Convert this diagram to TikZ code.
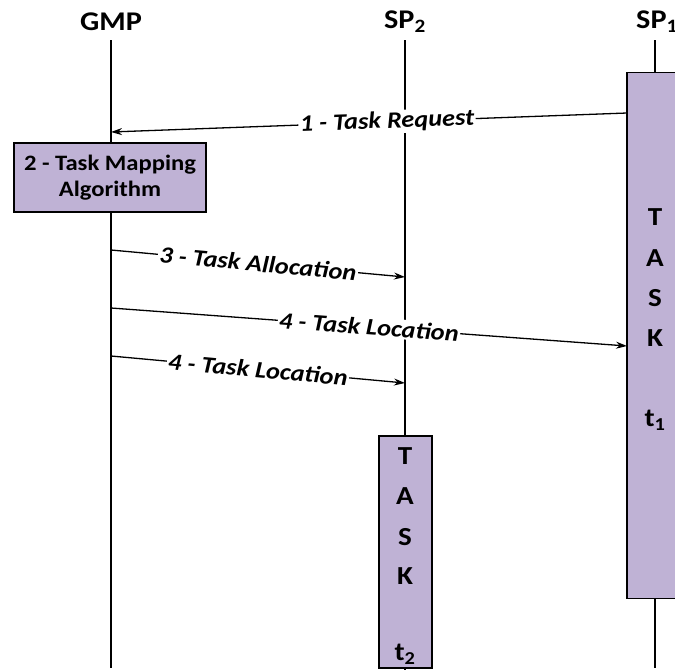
\documentclass[tikz,border=0pt]{standalone}
\usepackage{fontspec}
\setmainfont{Carlito}[FakeStretch=1.12]
\usetikzlibrary{arrows.meta}
\definecolor{taskfill}{RGB}{191,178,213}

\begin{document}
\begin{tikzpicture}[x=1pt,y=-1pt,
  lifeline/.style={line width=2.6pt},
  taskbox/.style={draw, line width=1.3pt, fill=taskfill, inner sep=0pt},
  msg/.style={line width=1.3pt, -{Stealth[length=11pt,width=7pt]}},
  msglabel/.style={fill=white, sloped, inner sep=1.5pt, font=\fontsize{23.5}{27}\selectfont\bfseries\itshape},
  header/.style={font=\fontsize{27}{31}\selectfont\bfseries},
  tasktext/.style={font=\fontsize{26}{30}\selectfont\bfseries, inner sep=0pt},
]
\useasboundingbox (0,0) rectangle (675,670);

% participants
\node[header] (gmp) at (111,22) {GMP};
\node[header] (sp2) at (405,22) {SP\textsubscript{2}};
\node[header] (sp1) at (657,22) {SP\textsubscript{1}};

% lifelines
\coordinate (gmptop) at (111,40);
\coordinate (gmpbot) at (111,668);
\coordinate (sp2top) at (405,40);
\coordinate (sp2bot) at (405,670);
\coordinate (sp1top) at (655,40);
\coordinate (sp1bot) at (655,668);
\draw[lifeline] (gmptop) -- (gmpbot);
\draw[lifeline] (sp2top) -- (sp2bot);
\draw[lifeline] (sp1top) -- (sp1bot);

% activation boxes
\node[taskbox, minimum width=192pt, minimum height=69pt, align=center,
      font=\fontsize{22}{26}\selectfont\bfseries] (map) at (110,177.5)
      {2 - Task Mapping\\Algorithm};
\node[taskbox, minimum width=56pt, minimum height=526pt] (sp1box) at (655,335.5) {};
\node[taskbox, minimum width=53pt, minimum height=232pt] (sp2box) at (405.5,552) {};

% task names inside the boxes
\foreach \ch/\yy [count=\i] in {T/217,A/258,S/298,K/338}
  \node[tasktext] (taskone\i) at (655,\yy) {\ch};
\node[tasktext] (taskonet) at (655,420) {t\textsubscript{1}};
\foreach \ch/\yy [count=\i] in {T/456,A/496,S/537,K/576}
  \node[tasktext] (tasktwo\i) at (405,\yy) {\ch};
\node[tasktext] (tasktwot) at (405,654) {t\textsubscript{2}};

% message end points
\coordinate (reqs) at (627,113);
\coordinate (reqe) at (111,132);
\coordinate (allocs) at (111,250);
\coordinate (alloce) at (405,277);
\coordinate (locas) at (111,308);
\coordinate (locae) at (627,346);
\coordinate (locbs) at (111,356);
\coordinate (locbe) at (405,383);

% messages
\draw[msg] (reqs) -- node[msglabel, pos=0.465] {1 - Task Request} (reqe);
\draw[msg] (allocs) -- node[msglabel] {3 - Task Allocation} (alloce);
\draw[msg] (locas) -- node[msglabel] {4 - Task Location} (locae);
\draw[msg] (locbs) -- node[msglabel] {4 - Task Location} (locbe);
\end{tikzpicture}
\end{document}
